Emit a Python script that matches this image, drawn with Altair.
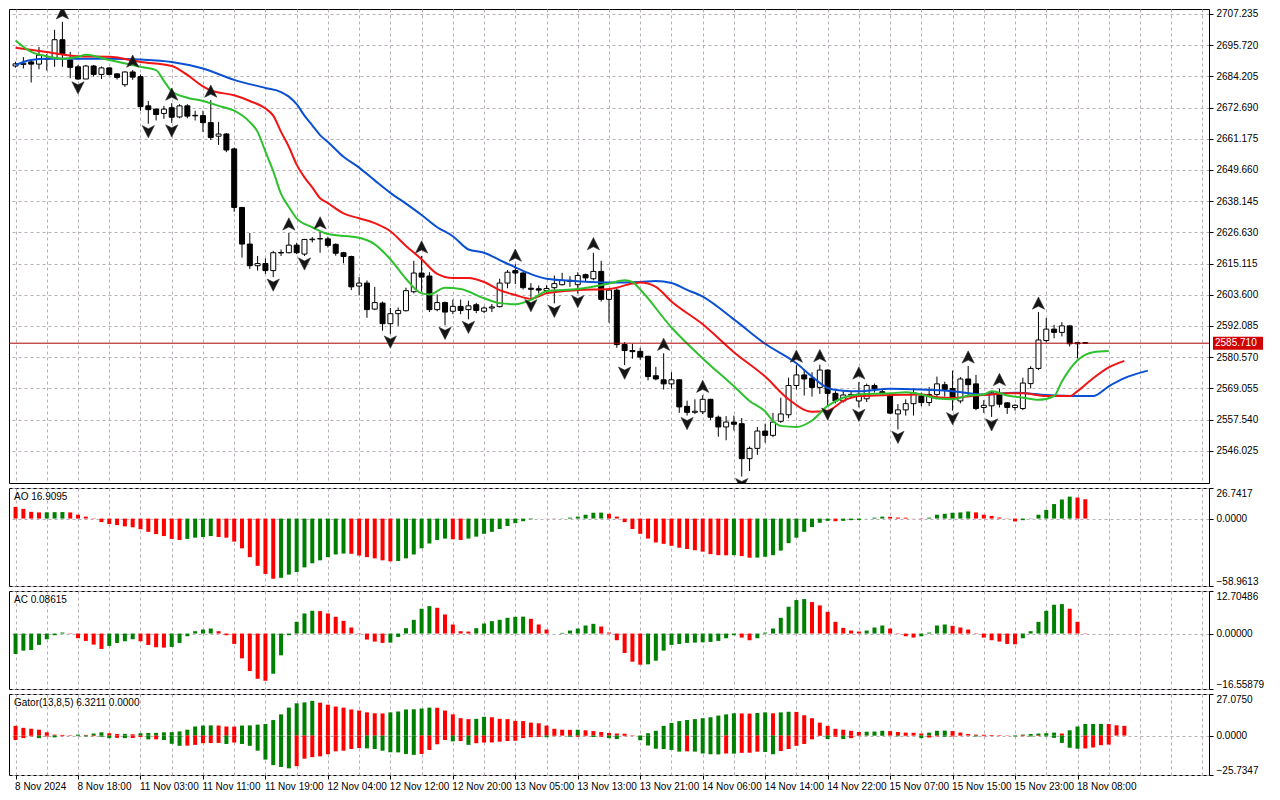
import json
import altair as alt
import pandas as pd

# ---------------- data ----------------
time_labels = ["8 Nov 2024", "8 Nov 18:00", "11 Nov 03:00", "11 Nov 11:00", "11 Nov 19:00",
               "12 Nov 04:00", "12 Nov 12:00", "12 Nov 20:00", "13 Nov 05:00", "13 Nov 13:00",
               "13 Nov 21:00", "14 Nov 06:00", "14 Nov 14:00", "14 Nov 22:00", "15 Nov 07:00",
               "15 Nov 15:00", "15 Nov 23:00", "18 Nov 08:00"]

price_ticks = [2546.025, 2557.540, 2569.055, 2580.570, 2592.085, 2603.600, 2615.115, 2626.630,
               2638.145, 2649.660, 2661.175, 2672.690, 2684.205, 2695.720, 2707.235]
price_range = [2534.12, 2709.04]
last_price = 2585.710

opens = [2688.0, 2688.6, 2689.5, 2688.7, 2690.5, 2691.1, 2697.7, 2690.2, 2687.7, 2683.2,
         2688.0, 2684.9, 2687.3, 2685.1, 2681.1, 2685.8, 2684.1, 2673.3, 2672.1, 2670.5,
         2672.6, 2669.2, 2673.3, 2669.8, 2669.7, 2667.1, 2662.1, 2662.9, 2657.4, 2635.8,
         2622.3, 2614.3, 2615.1, 2612.5, 2619.0, 2619.1, 2621.9, 2618.6, 2623.9, 2624.2,
         2624.2, 2622.2, 2619.1, 2617.7, 2606.8, 2607.9, 2598.3, 2600.5, 2592.9, 2596.6,
         2597.7, 2604.7, 2611.6, 2610.5, 2598.1, 2600.7, 2597.5, 2599.3, 2598.1, 2599.9,
         2597.5, 2598.7, 2599.2, 2607.9, 2612.5, 2611.6, 2606.0, 2605.8, 2605.1, 2606.2,
         2607.3, 2608.5, 2607.3, 2611.0, 2609.5, 2612.2, 2601.9, 2605.3, 2585.2, 2583.0,
         2582.7, 2580.9, 2573.7, 2572.2, 2570.7, 2572.2, 2562.4, 2560.2, 2560.4, 2565.0,
         2558.4, 2554.8, 2556.6, 2556.0, 2543.1, 2546.9, 2553.3, 2551.7, 2556.9, 2559.3,
         2570.1, 2574.0, 2572.8, 2569.4, 2575.8, 2567.2, 2564.4, 2566.6, 2564.4, 2565.2,
         2570.1, 2567.8, 2566.6, 2559.6, 2561.1, 2563.4, 2566.2, 2563.8, 2566.8, 2570.4,
         2569.0, 2564.4, 2572.5, 2570.7, 2562.0, 2562.6, 2567.0, 2563.7, 2562.0, 2561.6,
         2570.8, 2576.4, 2586.7, 2590.9, 2589.7, 2592.1, 2585.5, 2585.9]

highs = [2689.6, 2691.3, 2690.2, 2695.0, 2692.4, 2701.4, 2704.3, 2693.2, 2688.4, 2688.4,
         2688.4, 2687.8, 2687.5, 2685.3, 2686.0, 2686.5, 2684.9, 2675.1, 2672.3, 2673.3,
         2674.3, 2673.9, 2673.9, 2671.5, 2671.5, 2675.4, 2667.3, 2663.3, 2657.9, 2636.0,
         2626.4, 2617.9, 2617.0, 2619.8, 2620.3, 2626.4, 2622.8, 2624.2, 2624.9, 2626.8,
         2625.0, 2622.5, 2619.4, 2618.0, 2610.1, 2608.9, 2606.5, 2601.1, 2598.7, 2598.9,
         2606.2, 2616.1, 2617.9, 2611.9, 2603.7, 2601.1, 2601.8, 2601.8, 2601.4, 2600.6,
         2599.3, 2600.2, 2609.5, 2612.7, 2614.9, 2612.0, 2607.9, 2607.0, 2607.1, 2610.7,
         2611.7, 2610.4, 2611.9, 2611.4, 2619.1, 2616.1, 2605.6, 2606.0, 2586.1, 2585.5,
         2584.0, 2580.9, 2577.0, 2582.0, 2575.0, 2572.5, 2564.5, 2565.0, 2566.5, 2565.2,
         2559.0, 2558.8, 2559.0, 2558.1, 2547.6, 2554.8, 2556.0, 2560.0, 2565.6, 2573.0,
         2577.6, 2576.0, 2575.0, 2577.8, 2576.0, 2568.0, 2568.0, 2568.0, 2571.4, 2570.8,
         2570.8, 2568.5, 2567.0, 2563.2, 2565.0, 2569.0, 2567.5, 2569.5, 2573.4, 2571.5,
         2575.6, 2573.2, 2577.3, 2574.0, 2564.7, 2568.0, 2569.0, 2564.0, 2563.2, 2573.0,
         2577.2, 2597.2, 2595.0, 2592.5, 2593.5, 2592.3, 2586.2, 2586.0]

lows = [2687.4, 2687.1, 2681.9, 2686.8, 2686.3, 2687.7, 2687.7, 2683.5, 2682.9, 2683.2,
        2684.1, 2683.2, 2684.5, 2683.0, 2680.3, 2682.9, 2671.5, 2666.7, 2667.9, 2668.5,
        2667.0, 2668.7, 2668.7, 2667.9, 2663.7, 2660.7, 2658.9, 2656.2, 2634.2, 2617.3,
        2613.1, 2612.5, 2611.3, 2610.1, 2617.9, 2618.9, 2618.6, 2617.9, 2622.9, 2619.1,
        2621.0, 2618.0, 2615.2, 2605.3, 2603.3, 2595.1, 2597.9, 2590.3, 2589.1, 2592.1,
        2597.4, 2604.1, 2604.7, 2597.2, 2597.5, 2592.3, 2596.4, 2596.4, 2594.5, 2596.8,
        2596.8, 2597.2, 2598.9, 2606.0, 2607.5, 2605.5, 2602.5, 2604.0, 2604.0, 2600.4,
        2607.0, 2606.5, 2604.0, 2608.5, 2608.9, 2601.1, 2593.3, 2584.0, 2577.6, 2580.0,
        2579.6, 2572.0, 2572.0, 2568.6, 2569.0, 2560.0, 2559.0, 2559.6, 2559.6, 2557.4,
        2551.2, 2549.9, 2553.5, 2536.5, 2538.5, 2544.5, 2549.0, 2551.0, 2556.3, 2558.0,
        2568.6, 2566.4, 2566.0, 2567.0, 2562.5, 2563.5, 2563.8, 2565.5, 2562.0, 2564.0,
        2567.5, 2566.5, 2559.5, 2553.9, 2559.0, 2559.0, 2562.5, 2562.5, 2565.6, 2566.0,
        2560.8, 2563.5, 2566.4, 2561.0, 2560.0, 2558.5, 2562.0, 2559.6, 2560.8, 2561.0,
        2569.0, 2575.8, 2586.0, 2587.5, 2588.2, 2584.5, 2580.1, 2585.4]

closes = [2688.8, 2689.0, 2688.7, 2692.0, 2690.8, 2697.7, 2692.5, 2687.5, 2683.2, 2688.0,
          2684.9, 2687.3, 2684.9, 2683.8, 2685.8, 2683.9, 2673.0, 2671.9, 2670.1, 2672.1,
          2669.1, 2673.3, 2669.5, 2669.6, 2667.1, 2661.6, 2662.9, 2657.0, 2635.8, 2622.3,
          2614.3, 2615.1, 2612.5, 2619.1, 2619.2, 2621.9, 2619.1, 2624.0, 2624.1, 2624.3,
          2621.8, 2618.9, 2617.7, 2606.5, 2607.9, 2598.1, 2600.7, 2592.9, 2596.6, 2597.8,
          2605.1, 2611.6, 2610.1, 2598.1, 2600.7, 2597.2, 2599.3, 2597.8, 2599.5, 2597.8,
          2598.7, 2599.1, 2607.9, 2611.9, 2611.6, 2606.2, 2605.6, 2605.3, 2605.9, 2607.7,
          2608.9, 2608.9, 2610.7, 2609.8, 2612.2, 2601.9, 2605.3, 2585.2, 2583.0, 2582.6,
          2580.6, 2573.4, 2572.5, 2570.7, 2572.2, 2562.2, 2560.2, 2560.6, 2565.0, 2558.4,
          2554.8, 2556.6, 2555.8, 2543.1, 2546.9, 2553.3, 2551.7, 2556.6, 2559.6, 2570.1,
          2574.0, 2572.5, 2569.4, 2575.8, 2567.2, 2564.4, 2566.6, 2566.8, 2566.9, 2570.1,
          2568.9, 2567.4, 2559.9, 2561.1, 2563.4, 2567.4, 2563.8, 2566.8, 2570.7, 2568.6,
          2565.6, 2572.5, 2570.4, 2561.6, 2562.8, 2567.4, 2563.2, 2562.0, 2562.8, 2571.0,
          2576.4, 2586.9, 2590.9, 2589.7, 2592.1, 2585.5, 2585.9, 2585.7]

up_fractals = [6, 15, 20, 25, 35, 39, 52, 64, 74, 83, 88, 100, 103, 108, 122, 126, 131]
down_fractals = [8, 17, 20, 33, 37, 48, 55, 58, 66, 69, 72, 78, 86, 93, 104, 108, 113, 120, 125]

jaw_idx = [0, 1, 2, 4, 8, 12, 16, 20, 24, 28, 32, 34, 35, 36, 37, 38, 39, 40, 42, 44,
           46, 48, 50, 52, 54, 56, 58, 60, 62, 64, 66, 68, 72, 76, 80, 82, 84, 86, 88, 92,
           96, 100, 102, 104, 106, 108, 112, 116, 120, 124, 128, 132, 136, 138, 140, 142, 145]
jaw_val = [2688.4, 2689.5, 2690.2, 2690.7, 2690.7, 2690.7, 2690.4, 2689.5, 2687.1, 2682.9,
           2679.9, 2678.4, 2676.7, 2673.9, 2669.7, 2666.1, 2662.5, 2660.0, 2654.5, 2650.5,
           2645.8, 2641.2, 2637.2, 2633.0, 2628.5, 2625.2, 2620.3, 2619.1, 2616.4, 2613.7,
           2611.2, 2609.5, 2608.6, 2608.1, 2608.3, 2608.7, 2607.9, 2605.4, 2602.9, 2594.5,
           2585.5, 2578.3, 2573.4, 2569.2, 2568.2, 2568.0, 2568.9, 2568.6, 2568.0, 2566.8,
           2567.4, 2566.6, 2566.2, 2566.2, 2569.8, 2572.8, 2575.6]

teeth_idx = [0, 4, 8, 12, 16, 20, 22, 24, 25, 28, 30, 32, 33, 34, 35, 36, 37, 38, 39, 40,
             42, 44, 46, 48, 50, 52, 54, 56, 58, 60, 62, 64, 66, 68, 72, 76, 79, 80, 82, 84,
             88, 92, 96, 99, 102, 104, 106, 108, 112, 116, 118, 120, 123, 125, 127, 129, 132,
             135, 136, 138, 140, 142]
teeth_val = [2694.7, 2693.2, 2691.6, 2691.4, 2689.5, 2688.0, 2684.7, 2680.5, 2679.0, 2677.2,
             2675.1, 2672.3, 2669.7, 2663.7, 2658.2, 2651.6, 2646.9, 2643.2, 2639.2, 2637.4,
             2633.6, 2631.8, 2630.0, 2627.0, 2621.6, 2616.7, 2611.3, 2609.8, 2609.8, 2608.3,
             2605.3, 2603.5, 2602.1, 2604.1, 2605.3, 2605.7, 2607.7, 2608.1, 2606.5, 2601.1,
             2592.7, 2582.4, 2573.4, 2565.0, 2560.4, 2560.8, 2564.4, 2566.2, 2566.6, 2566.8,
             2565.8, 2565.5, 2566.4, 2566.8, 2567.2, 2567.2, 2566.2, 2566.2, 2568.0, 2572.8,
             2576.8, 2579.2]

lips_idx = [0, 2, 4, 6, 8, 9, 12, 16, 18, 19, 20, 22, 24, 26, 28, 30, 31, 32, 33, 34,
            35, 36, 38, 40, 44, 46, 48, 50, 52, 53, 55, 57, 60, 62, 64, 66, 68, 72, 76, 78,
            79, 80, 84, 88, 92, 94, 96, 97, 98, 100, 102, 104, 106, 108, 112, 114, 116, 118,
            120, 122, 124, 125, 127, 129, 131, 133, 134, 136, 138, 140]
lips_val = [2697.4, 2693.2, 2691.6, 2690.7, 2691.4, 2692.2, 2690.2, 2687.7, 2686.5, 2682.5,
            2678.7, 2676.3, 2675.1, 2673.3, 2671.5, 2667.3, 2663.7, 2656.4, 2649.2, 2640.8,
            2636.0, 2631.8, 2628.5, 2626.0, 2624.6, 2622.2, 2616.7, 2609.5, 2604.1, 2603.7,
            2606.2, 2605.7, 2602.3, 2600.5, 2600.1, 2601.7, 2604.9, 2605.7, 2607.7, 2608.9,
            2608.3, 2605.5, 2591.5, 2580.1, 2569.8, 2564.4, 2560.5, 2557.0, 2555.2, 2554.8,
            2557.2, 2562.6, 2565.6, 2566.8, 2567.2, 2567.6, 2566.8, 2565.3, 2565.0, 2566.4,
            2566.8, 2568.0, 2566.4, 2565.6, 2564.8, 2566.2, 2571.6, 2579.4, 2582.4, 2582.8]

ao = [10.2, 8.5, 5.9, 5.4, 5.5, 5.6, 5.7, 5.4, 3.4, 1.7,
      0.3, -3.1, -4.8, -5.7, -6.8, -7.6, -9.3, -11.6, -13.6, -15.3,
      -17.8, -18.7, -17.8, -16.7, -16.1, -15.3, -16.1, -16.7, -20.1, -26.0,
      -33.7, -41.3, -48.4, -52.6, -51.8, -49.0, -46.7, -42.7, -39.1, -36.5,
      -33.7, -31.4, -30.6, -30.8, -32.3, -33.7, -34.8, -36.5, -37.4, -37.1,
      -34.8, -31.4, -26.0, -21.8, -18.7, -17.5, -18.1, -18.7, -17.5, -15.8,
      -13.3, -11.6, -9.1, -6.5, -4.0, -2.3, -0.6, 0.1, -0.1, -0.2,
      0.2, 0.8, 1.7, 3.4, 5.1, 5.2, 4.2, 1.7, -3.1, -9.1,
      -13.3, -17.5, -20.9, -22.1, -23.8, -25.5, -26.6, -27.7, -28.9, -31.1,
      -32.0, -32.1, -32.0, -32.8, -34.2, -34.1, -33.4, -32.0, -28.0, -21.5,
      -16.7, -11.6, -7.4, -3.7, -2.0, -2.3, -2.0, -1.4, -1.3, -0.1,
      0.8, 1.7, 1.5, 0.9, 0.8, 0.1, -0.3, 0.8, 3.4, 4.2,
      5.1, 5.4, 6.2, 5.4, 3.4, 2.3, 0.9, 0.2, -2.5, -1.4,
      0.2, 3.4, 7.6, 12.7, 16.7, 19.2, 18.4, 16.9095]
ao_range = [-58.9613, 26.7417]

ac = [-6.1, -5.1, -4.9, -3.4, -1.7, -0.5, 0.3, 0.1, -1.4, -2.2,
      -3.3, -4.6, -3.7, -2.8, -2.3, -1.7, -2.3, -3.4, -4.1, -4.2,
      -4.0, -2.8, -0.8, 0.7, 1.2, 1.5, 0.7, -0.5, -3.1, -7.4,
      -11.2, -13.5, -14.1, -12.0, -6.5, -0.5, 3.5, 6.0, 6.8, 6.7,
      6.0, 5.0, 3.8, 1.8, 0.1, -1.8, -2.4, -2.8, -2.7, -1.0,
      1.6, 4.1, 7.4, 8.2, 7.7, 5.7, 2.7, 0.7, 0.6, 1.6,
      3.0, 3.7, 4.1, 4.7, 5.0, 5.05, 4.4, 2.7, 1.2, 0.0,
      0.2, 0.9, 1.5, 2.4, 2.9, 2.1, 0.3, -2.0, -5.8, -8.4,
      -9.3, -9.2, -8.1, -5.1, -3.4, -3.1, -2.8, -2.7, -2.6, -2.5,
      -2.2, -1.4, -0.5, -1.2, -2.0, -1.4, 0.3, 1.5, 4.7, 8.0,
      10.0, 10.3, 9.4, 8.4, 6.5, 3.5, 1.7, 0.9, 0.6, 0.9,
      1.8, 2.4, 1.5, -0.1, -0.8, -1.2, -0.8, 0.3, 2.4, 2.7,
      2.3, 1.8, 1.2, -0.1, -1.2, -2.0, -2.4, -3.1, -3.2, -1.4,
      0.7, 3.5, 6.8, 8.6, 8.8, 7.4, 3.5, 0.08615]
ac_range = [-16.55879, 12.70486]

gator_up = [6.3, 5.0, 4.4, 3.8, 2.1, 0.6, 0.4, 0.1, 0.6, 0.4,
            1.3, 2.1, 1.5, 1.0, 1.1, 0.8, 1.5, 1.7, 1.75, 2.1,
            2.2, 2.7, 3.8, 5.9, 6.5, 6.6, 6.5, 5.9, 5.8, 6.5,
            6.6, 7.1, 7.5, 10.1, 13.8, 18.2, 21.0, 21.6, 22.6, 21.4,
            20.1, 18.9, 18.2, 17.0, 16.3, 15.1, 14.5, 14.4, 15.1, 15.7,
            17.0, 17.1, 17.6, 18.2, 18.1, 16.3, 13.8, 11.3, 10.7, 10.9,
            12.2, 11.9, 10.9, 10.7, 9.6, 9.4, 8.4, 8.0, 6.5, 4.4,
            3.8, 3.7, 3.8, 3.4, 2.9, 2.3, 1.7, 1.3, 1.2, 0.2,
            0.0, 1.5, 3.1, 6.3, 8.2, 9.4, 10.1, 10.7, 11.3, 11.9,
            13.0, 13.8, 14.5, 14.4, 14.3, 14.7, 15.1, 14.5, 15.1, 15.5,
            15.4, 13.2, 11.3, 8.4, 6.3, 4.4, 3.8, 3.1, 2.3, 2.5,
            2.6, 3.1, 2.9, 2.3, 1.9, 1.8, 1.3, 1.9, 3.1, 3.2,
            2.9, 1.9, 1.0, 0.6, 0.5, 0.3, 0.2, 0.1, 0.05, 0.6,
            1.0, 1.3, 1.5, 1.9, 1.3, 3.4, 5.9, 7.5, 7.55, 7.6,
            7.5, 6.7, 6.3211]
gator_down = [-2.9, -1.7, -0.5, -1.7, -0.6, -1.2, -0.4, -0.2, -0.4, -0.6,
              -0.4, -0.8, -1.7, -1.5, -1.7, -1.6, -1.0, -2.5, -2.5, -2.9,
              -5.4, -6.7, -6.6, -6.1, -5.0, -4.9, -4.8, -5.5, -4.6, -5.5,
              -6.7, -9.9, -15.7, -19.3, -20.5, -21.4, -20.0, -15.1, -14.1, -13.6,
              -12.2, -10.3, -9.9, -8.8, -8.2, -8.4, -8.8, -9.9, -10.9, -11.0,
              -12.0, -12.6, -12.0, -9.4, -5.7, -2.9, -3.8, -3.6, -6.1, -5.0,
              -4.6, -4.5, -4.0, -3.6, -3.4, -1.7, -1.1, -0.9, -1.1, -0.4,
              -0.1, -0.8, -0.8, -0.4, -1.0, -0.8, -1.7, -2.3, -0.4, -0.1,
              -3.1, -6.5, -8.6, -8.8, -9.4, -10.5, -10.3, -10.5, -11.7, -12.2,
              -12.3, -11.7, -11.8, -11.3, -11.2, -10.5, -10.7, -12.2, -10.1, -8.8,
              -6.7, -5.5, -2.5, -0.3, -2.3, -0.8, -2.3, -1.7, -0.2, -0.1,
              -0.2, -0.3, -0.1, -0.5, -0.4, -0.1, -1.7, -1.3, -0.5, -0.8,
              -0.6, -0.2, -0.1, -0.6, -0.4, -0.3, -0.2, -0.1, -0.6, -0.4,
              -0.6, -0.3, -0.6, -1.5, -4.8, -8.0, -8.6, -8.4, -7.8, -6.3,
              -5.9]
gator_down_last = 0.0
gator_range = [-25.7347, 27.0750]

# ---------------- styling ----------------
FONT = "Liberation Sans"
GREEN = "#008000"
RED = "#ff0000"
GRID = "#b8aeb8"
W = 1200
X_DOMAIN = [-0.2, 152.2]
grid_vals = list(range(0, 153, 4))


def xenc(show_labels):
    labels_js = json.dumps(time_labels)
    kw = dict(values=grid_vals, grid=True, gridDash=[3, 3], gridColor=GRID, title=None,
              domain=False, labels=show_labels, labelFlush=False, labelOverlap=False)
    if show_labels:
        kw.update(
            labelExpr=f"(datum.value % 8 === 0 && datum.value / 8 < {len(time_labels)}) ? {labels_js}[datum.value / 8] : ''",
            labelAlign="left", labelPadding=2, labelFontSize=10, labelOffset=-1, tickSize=4,
            tickOpacity={"condition": {"test": "datum.value % 8 === 0 && datum.value <= 136", "value": 1}, "value": 0},
        )
    else:
        kw.update(ticks=False)
    return alt.X("i:Q", scale=alt.Scale(domain=X_DOMAIN, nice=False, zero=False), axis=alt.Axis(**kw))


def make_y(domain, values, fmt, flush):
    axis = alt.Axis(orient="right", values=values, format=fmt, grid=True, gridDash=[3, 3],
                    gridColor=GRID, title=None, tickSize=4, labelPadding=3, labelFlush=flush,
                    labelFontSize=10)
    scale = alt.Scale(domain=domain, nice=False, zero=False)

    def f(field):
        return alt.Y(f"{field}:Q", scale=scale, axis=axis)
    return f


def hist_colors(vals, first_up, absolute=False):
    out = []
    for k, v in enumerate(vals):
        if k == 0:
            up = first_up
        else:
            a, b = (abs(v), abs(vals[k - 1])) if absolute else (v, vals[k - 1])
            up = a > b
        out.append(GREEN if up else RED)
    return out


# ---------------- main panel ----------------
candles = pd.DataFrame({"i": range(len(opens)), "o": opens, "h": highs, "l": lows, "c": closes})
Ym = make_y(price_range, price_ticks, ".3f", False)
X_top = xenc(False)

wicks = alt.Chart(candles).mark_rule(color="black", strokeWidth=1).encode(x=X_top, y=Ym("l"), y2="h")
bodies = alt.Chart(candles).mark_bar(width=5, stroke="black", strokeWidth=1).encode(
    x=X_top, y=Ym("o"), y2="c",
    fill=alt.condition("datum.c >= datum.o", alt.value("white"), alt.value("black")))


def line_layer(idx, vals, color):
    df = pd.DataFrame({"i": idx, "v": vals})
    return alt.Chart(df).mark_line(color=color, strokeWidth=2, interpolate="monotone").encode(
        x=X_top, y=Ym("v"), order="i:Q")


jaw = line_layer(jaw_idx, jaw_val, "#0a50d2")
teeth = line_layer(teeth_idx, teeth_val, "#f01414")
lips = line_layer(lips_idx, lips_val, "#2ec12e")

price_df = pd.DataFrame({"p": [last_price], "lbl": [f"{last_price:.3f}"]})
price_rule = alt.Chart(price_df).mark_rule(color="#b00000", strokeWidth=1).encode(y=Ym("p"))

UP_PATH = "M0,-1L1,1L0,0.5L-1,1Z"
DOWN_PATH = "M0,1L1,-1L0,-0.5L-1,-1Z"
up_df = candles[candles["i"].isin(up_fractals)]
down_df = candles[candles["i"].isin(down_fractals)]
up_pts = alt.Chart(up_df).mark_point(shape=UP_PATH, filled=True, color="#151515", opacity=1,
                                      stroke="#303030", strokeWidth=0.6,
                                      size=150, yOffset=-9, clip=True).encode(x=X_top, y=Ym("h"))
down_pts = alt.Chart(down_df).mark_point(shape=DOWN_PATH, filled=True, color="#151515", opacity=1,
                                          stroke="#303030", strokeWidth=0.6,
                                          size=150, yOffset=8, clip=True).encode(x=X_top, y=Ym("l"))

price_box = alt.Chart(price_df).mark_tick(orient="horizontal", color="#d00000", thickness=13,
                                          size=50, opacity=1).encode(x=alt.value(W + 29), y=Ym("p"))
price_txt = alt.Chart(price_df).mark_text(align="left", baseline="middle", color="white",
                                          fontSize=10, font=FONT).encode(
    x=alt.value(W + 6), y=Ym("p"), text="lbl:N")

main = alt.layer(wicks, bodies, jaw, teeth, lips, price_rule, up_pts, down_pts, price_box,
                 price_txt).properties(width=W, height=474)


# ---------------- indicator panels ----------------
def hist_panel(series_list, rng, fmt, label, height, x_enc):
    Yh = make_y(rng, [rng[1], 0, rng[0]], fmt, True)
    layers = []
    for vals, cols in series_list:
        df = pd.DataFrame({"i": range(len(vals)), "v": vals, "z": [0.0] * len(vals), "col": cols})
        layers.append(alt.Chart(df).mark_bar(width=4).encode(
            x=x_enc, y=Yh("v"), y2="z", fill=alt.Fill("col:N", scale=None)))
    tdf = pd.DataFrame({"t": [label]})
    layers.append(alt.Chart(tdf).mark_text(align="left", baseline="middle", fontSize=10,
                                           font=FONT, color="black").encode(
        x=alt.value(5), y=alt.value(9), text="t:N"))
    return alt.layer(*layers).properties(width=W, height=height)


ao_panel = hist_panel([(ao, hist_colors(ao, False))], ao_range, ".4f",
                      f"AO {ao[-1]:.4f}", 98, X_top)
ac_panel = hist_panel([(ac, hist_colors(ac, True))], ac_range, ".5f",
                      f"AC {ac[-1]:.5f}", 98, X_top)
gator_panel = hist_panel(
    [(gator_up, hist_colors(gator_up, False, True)),
     (gator_down, hist_colors(gator_down, False, True))],
    gator_range, ".4f",
    f"Gator(13,8,5) {gator_up[-1]:.4f} {gator_down_last:.4f}", 81, xenc(True))

chart = alt.vconcat(main, ao_panel, ac_panel, gator_panel, spacing=3).resolve_scale(
    x="independent", y="independent").resolve_axis(x="independent", y="independent").properties(
    padding=0, background="white").configure_view(stroke="black", strokeWidth=1).configure_axis(
    labelFont=FONT, labelColor="black", tickColor="black", domainColor="black", gridWidth=1)

chart.save("out.html", embed_options={"renderer": "svg", "actions": False})
